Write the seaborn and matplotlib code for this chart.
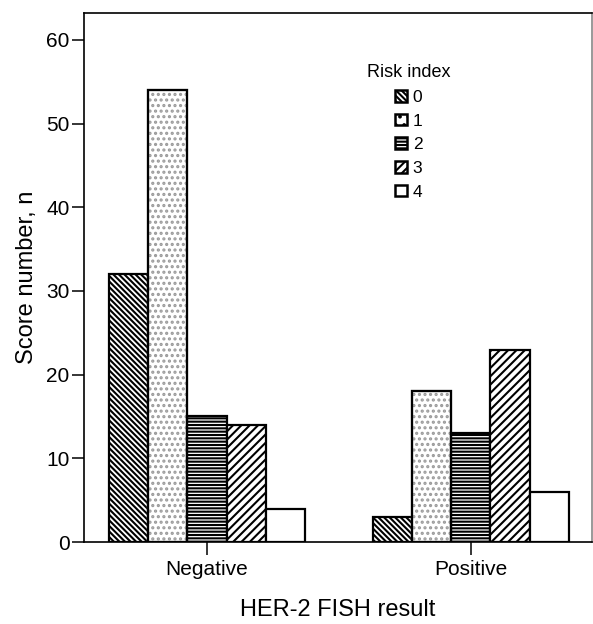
import matplotlib
matplotlib.use("Agg")
import matplotlib.pyplot as plt
from matplotlib.patches import Patch, Rectangle
import pandas as pd
import seaborn as sns

RESULTS = ["Negative", "Positive"]
RISK_LEVELS = ["0", "1", "2", "3", "4"]
NEGATIVE_COUNTS = [32, 54, 15, 14, 4]
POSITIVE_COUNTS = [3, 18, 13, 23, 6]
HATCHES = ["\\\\\\\\\\\\", "...", "-----", "////", ""]
DOT_COLOR = "#9a9a9a"

sns.set_theme(style="white")
plt.rcParams["font.family"] = ["Liberation Sans", "DejaVu Sans"]
plt.rcParams["hatch.linewidth"] = 1.5
for key in ["text.color", "axes.labelcolor", "xtick.color", "ytick.color"]:
    plt.rcParams[key] = "black"

df = pd.DataFrame(
    {
        "result": [r for r in RESULTS for _ in RISK_LEVELS],
        "risk": RISK_LEVELS * len(RESULTS),
        "count": NEGATIVE_COUNTS + POSITIVE_COUNTS,
    }
)

fig = plt.figure(figsize=(5.93, 6.24), dpi=100)
ax = fig.add_axes([0.1417, 0.1314, 0.8563, 0.8476])

sns.barplot(
    data=df,
    x="result",
    y="count",
    hue="risk",
    hue_order=RISK_LEVELS,
    palette=["white"] * len(RISK_LEVELS),
    width=0.74,
    edgecolor="black",
    linewidth=1.6,
    legend=False,
    ax=ax,
)

# dotted bars get a grey hatch, then a black outline on top
for container, hatch in zip(ax.containers, HATCHES):
    for bar in container:
        bar.set_hatch(hatch)
        if hatch == "...":
            bar.set_edgecolor(DOT_COLOR)
            ax.add_patch(Rectangle(bar.get_xy(), bar.get_width(), bar.get_height(),
                                   fill=False, edgecolor="black", linewidth=1.6,
                                   zorder=bar.get_zorder() + 0.1))

ax.set_xlim(-0.466, 1.458)
ax.set_ylim(0, 63.2)
ax.set_yticks(range(0, 61, 10))

for side in ["left", "bottom", "top"]:
    ax.spines[side].set_color("black")
    ax.spines[side].set_linewidth(1.2)
ax.spines["right"].set_color("#888888")
ax.spines["right"].set_linewidth(1.2)

ax.tick_params(axis="y", direction="out", length=8.5, width=1.1, labelsize=15,
               left=True, pad=2)
ax.tick_params(axis="x", direction="out", length=9, width=1.1, labelsize=15,
               bottom=True, pad=4)

ax.set_xlabel("HER-2 FISH result", fontsize=17, labelpad=14)
ax.set_ylabel("Score number, n", fontsize=17, labelpad=6)

handles = []
for hatch in HATCHES:
    handles.append(Patch(facecolor="white", edgecolor="black", linewidth=1.8,
                         hatch=hatch.replace("...", "..")))
leg = ax.legend(
    handles,
    RISK_LEVELS,
    title="Risk index",
    frameon=False,
    fontsize=12.5,
    title_fontsize=13,
    handlelength=0.65,
    handleheight=0.65,
    handletextpad=0.35,
    labelspacing=0.5,
    loc="upper left",
    bbox_to_anchor=(0.527, 0.933),
)
leg._legend_box.align = "center"

fig.savefig("out.png", dpi=100)
